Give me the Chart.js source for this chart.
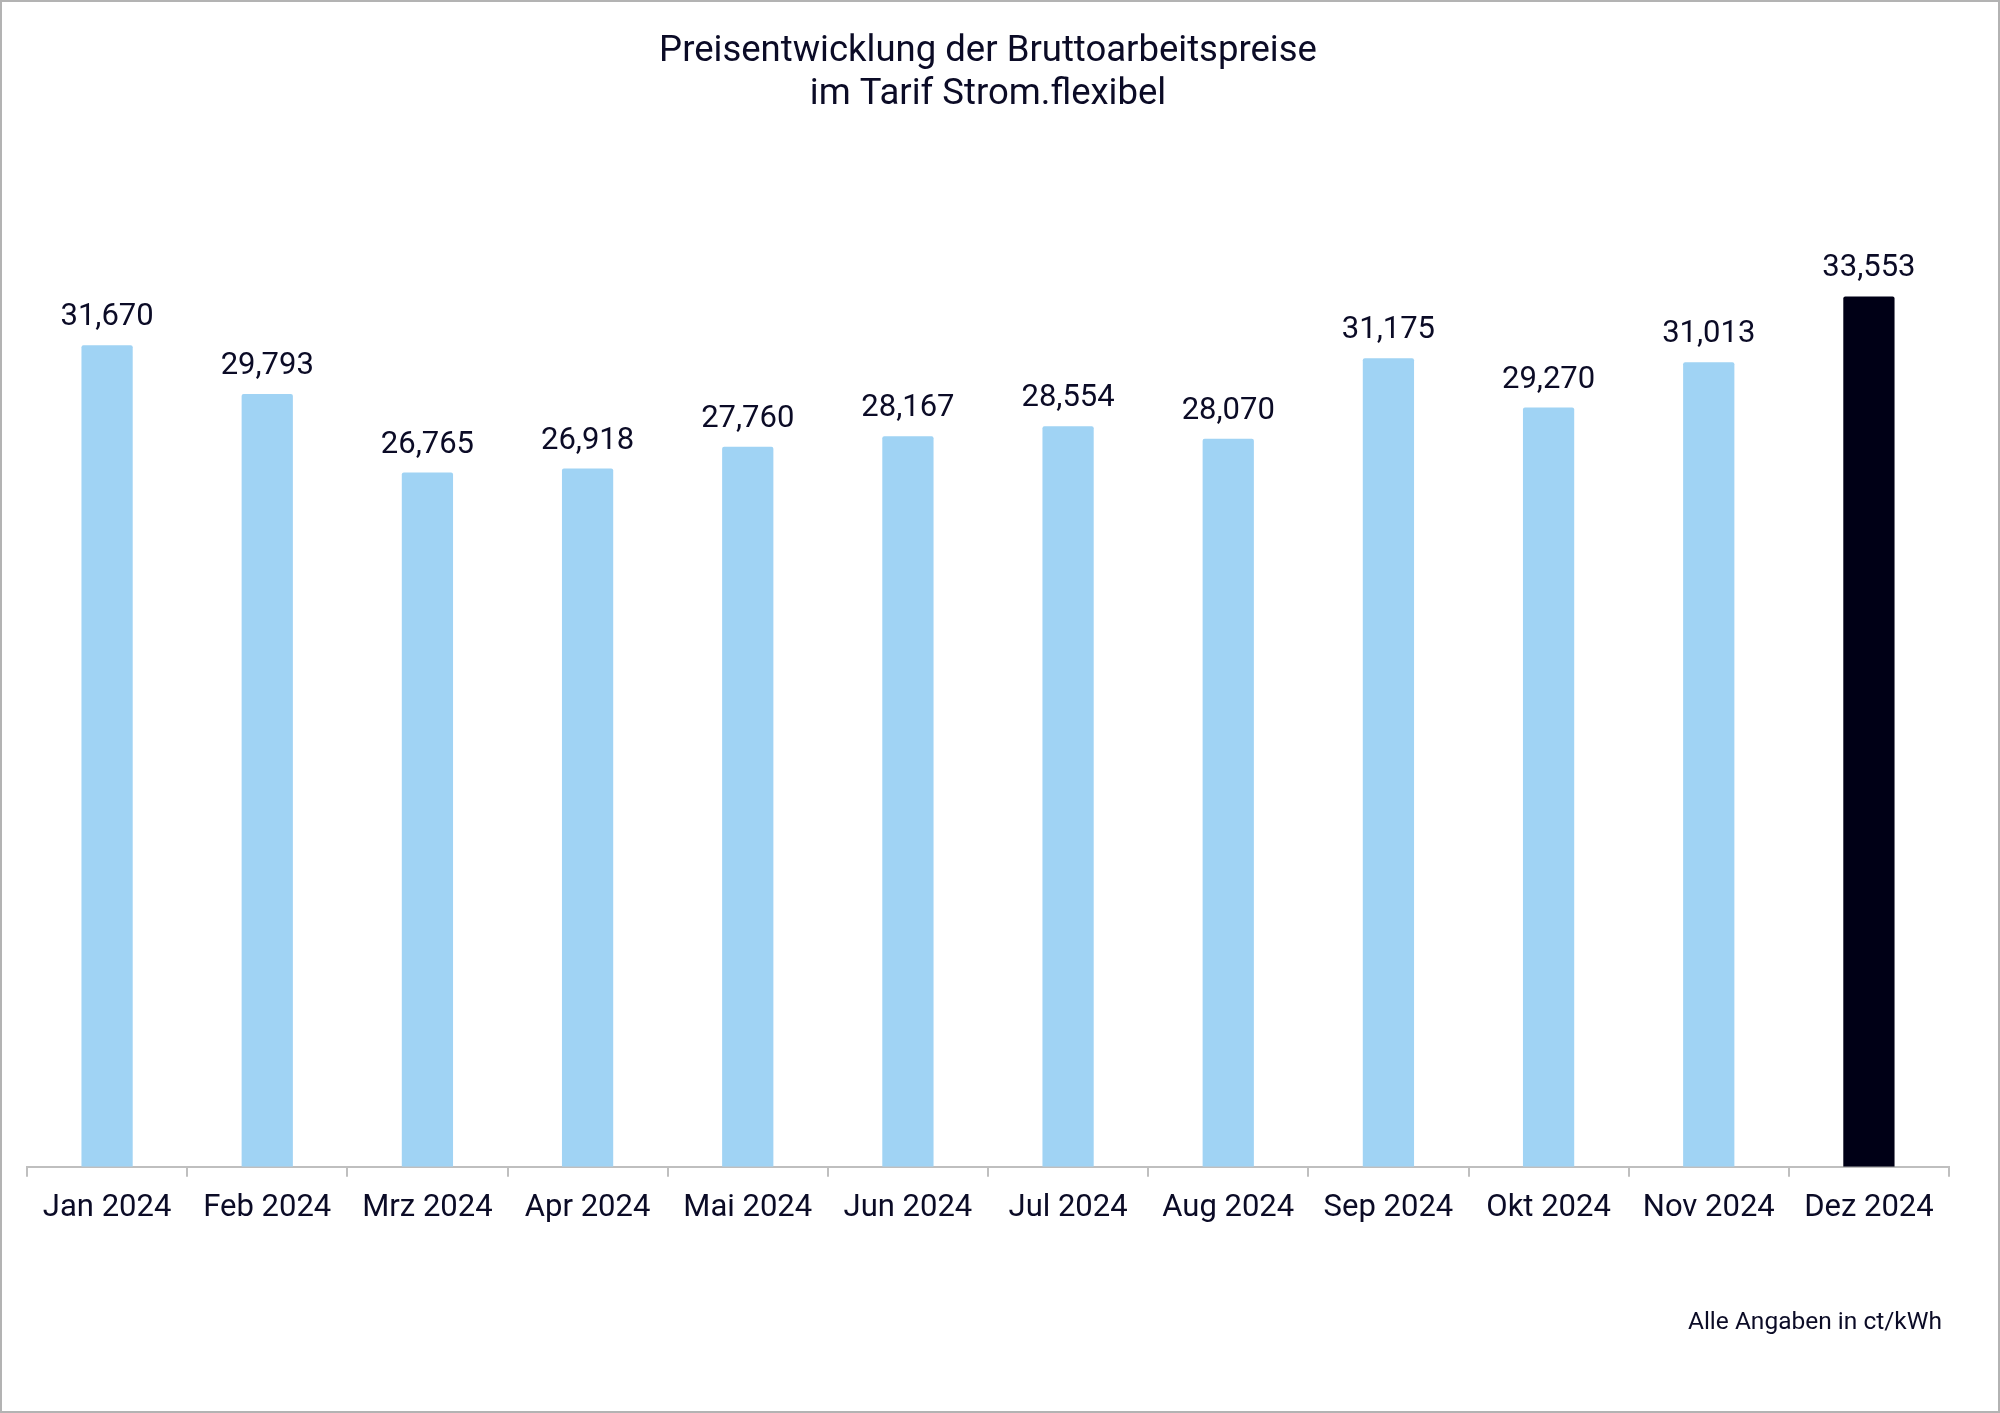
<!DOCTYPE html>
<html>
<head>
<meta charset="utf-8">
<script src="https://cdn.jsdelivr.net/npm/chart.js@4.4.1/dist/chart.umd.min.js"></script>
<style>
  html, body { margin: 0; padding: 0; background: #fff; }
  #wrap { width: 2000px; height: 1413px; }
</style>
</head>
<body>
<div id="wrap"><canvas id="preisChart" width="2000" height="1413"></canvas></div>
<script>
// Daten
var monate = ['Jan 2024', 'Feb 2024', 'Mrz 2024', 'Apr 2024', 'Mai 2024', 'Jun 2024',
              'Jul 2024', 'Aug 2024', 'Sep 2024', 'Okt 2024', 'Nov 2024', 'Dez 2024'];
var preise = [31.670, 29.793, 26.765, 26.918, 27.760, 28.167,
              28.554, 28.070, 31.175, 29.270, 31.013, 33.553];
var farben = ['#a0d3f4', '#a0d3f4', '#a0d3f4', '#a0d3f4', '#a0d3f4', '#a0d3f4',
              '#a0d3f4', '#a0d3f4', '#a0d3f4', '#a0d3f4', '#a0d3f4', '#000016'];

var textFarbe = '#0b0b26';

// Werte ueber den Balken
var wertePlugin = {
    id: 'werte',
    afterDatasetsDraw: function(chart) {
        var ctx = chart.ctx;
        var meta = chart.getDatasetMeta(0);
        ctx.save();
        ctx.font = '31px Roboto';
        ctx.fillStyle = textFarbe;
        ctx.textAlign = 'center';
        ctx.textBaseline = 'alphabetic';
        meta.data.forEach(function(bar, i) {
            var txt = preise[i].toFixed(3).replace('.', ',');
            ctx.fillText(txt, bar.x, bar.y - 20);
        });
        ctx.restore();
    }
};

// Fussnote und Rahmen
var rahmenPlugin = {
    id: 'rahmen',
    afterDraw: function(chart) {
        var ctx = chart.ctx;
        ctx.save();
        ctx.font = '24.5px Roboto';
        ctx.fillStyle = textFarbe;
        ctx.textAlign = 'right';
        ctx.textBaseline = 'middle';
        ctx.fillText('Alle Angaben in ct/kWh', 1942, 1323);
        ctx.strokeStyle = '#b3b3b3';
        ctx.lineWidth = 2;
        ctx.strokeRect(1, 1, chart.width - 2, chart.height - 2);
        ctx.restore();
    }
};

var ctx = document.getElementById('preisChart').getContext('2d');
var preisChart = new Chart(ctx, {
    type: 'bar',
    data: {
        labels: monate,
        datasets: [{
            label: 'Bruttoarbeitspreis',
            data: preise,
            backgroundColor: farben,
            barPercentage: 0.8,
            categoryPercentage: 0.4,
            borderRadius: 2,
            borderSkipped: 'bottom'
        }]
    },
    options: {
        responsive: false,
        animation: false,
        layout: {
            padding: { left: 27, right: 51, top: 0, bottom: 173 }
        },
        plugins: {
            legend: { display: false },
            tooltip: { enabled: false },
            title: {
                display: true,
                text: ['Preisentwicklung der Bruttoarbeitspreise', 'im Tarif Strom.flexibel'],
                color: textFarbe,
                font: { family: 'Roboto', size: 36.5, weight: 'normal', lineHeight: 1.178 },
                padding: { top: 30, bottom: 117 }
            }
        },
        scales: {
            x: {
                grid: {
                    drawOnChartArea: false,
                    drawTicks: true,
                    tickLength: 10,
                    color: '#bfbfbf',
                    lineWidth: 2
                },
                border: { color: '#bfbfbf', width: 2 },
                ticks: {
                    color: textFarbe,
                    font: { family: 'Roboto', size: 31 },
                    padding: 13,
                    maxRotation: 0,
                    autoSkip: false
                }
            },
            y: {
                display: false,
                min: 0,
                max: 36
            }
        }
    },
    plugins: [wertePlugin, rahmenPlugin]
});
</script>
</body>
</html>
